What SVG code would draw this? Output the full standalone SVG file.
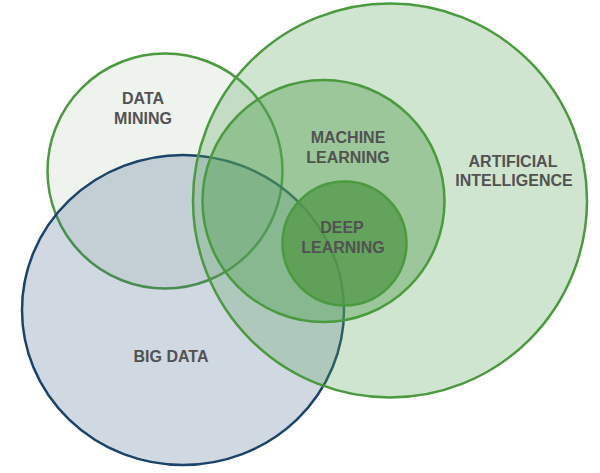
<svg xmlns="http://www.w3.org/2000/svg" width="600" height="473" viewBox="0 0 600 473">
<style>
.lbl{font-family:"Liberation Sans",Arial,sans-serif;font-weight:bold;font-size:16px;fill:#525252;text-anchor:middle}
.g{stroke:#4b9a3f;stroke-width:2.5}
</style>
<rect width="600" height="473" fill="#ffffff"/>
<g id="data-mining">
<circle cx="165" cy="171" r="117.5" fill="#eef3ee" class="g"/>
</g>
<g id="big-data">
<ellipse cx="183" cy="310" rx="161" ry="155" fill="#44648a" fill-opacity="0.25" stroke="#1b4468" stroke-width="2.5"/>
</g>
<g id="artificial-intelligence">
<circle cx="390" cy="200.5" r="197" fill="#57a257" fill-opacity="0.28" class="g"/>
</g>
<g id="machine-learning">
<circle cx="323.5" cy="201" r="121" fill="#57a257" fill-opacity="0.44" class="g"/>
</g>
<g id="deep-learning">
<circle cx="344.5" cy="243.5" r="62" fill="#569a4b" fill-opacity="0.8" class="g"/>
</g>
<g id="labels">
<text class="lbl" x="143" y="104">DATA</text>
<text class="lbl" x="143" y="124">MINING</text>
<text class="lbl" x="348" y="143">MACHINE</text>
<text class="lbl" x="348" y="163">LEARNING</text>
<text class="lbl" x="513" y="167">ARTIFICIAL</text>
<text class="lbl" x="514" y="186">INTELLIGENCE</text>
<text class="lbl" x="342" y="233">DEEP</text>
<text class="lbl" x="343" y="252.5">LEARNING</text>
<text class="lbl" x="171" y="362">BIG DATA</text>
</g>
<g id="connectors"/>
</svg>
